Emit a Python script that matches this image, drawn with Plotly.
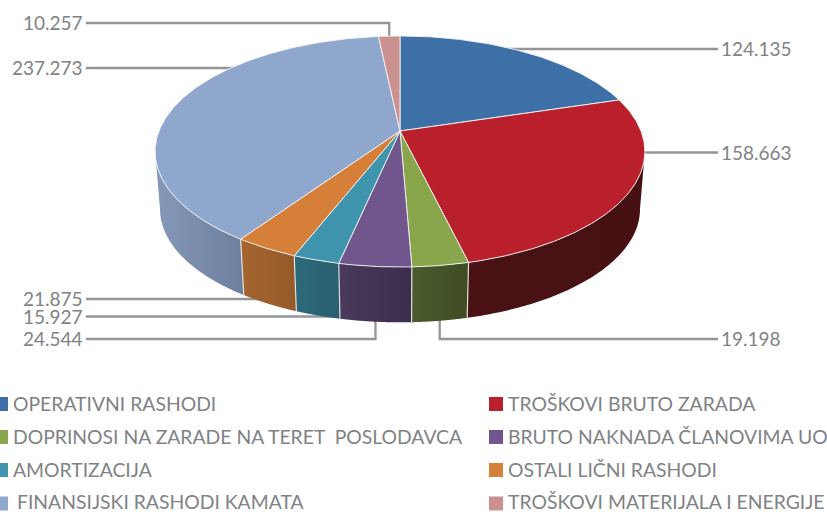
import math
import numpy as np
import plotly.graph_objects as go

# ---- data ----
categories = ["OPERATIVNI RASHODI", "TROŠKOVI BRUTO ZARADA",
              "DOPRINOSI NA ZARADE NA TERET\u00a0\u00a0POSLODAVCA", "BRUTO NAKNADA ČLANOVIMA UO",
              "AMORTIZACIJA", "OSTALI LIČNI RASHODI",
              "FINANSIJSKI RASHODI KAMATA", "TROŠKOVI MATERIJALA I ENERGIJE"]
values = [124135, 158663, 19198, 24544, 15927, 21875, 237273, 10257]
value_labels = ["124.135", "158.663", "19.198", "24.544", "15.927", "21.875", "237.273", "10.257"]

# ---- styles ----
top_colors = ["#3c70a6", "#ba1f2c", "#8aa64d", "#70568c", "#3f95ae", "#d67f38", "#8fa7cd", "#cb9191"]
wall_left = ["#2b5078", "#4a1214", "#4a5b2c", "#4a3a5c", "#2b6a7a", "#a5652e", "#8799ba", "#a06060"]
wall_right = ["#2b5078", "#461012", "#3f4c24", "#3b2c4c", "#2a5f70", "#95592a", "#6d7f9d", "#a06060"]
TEXT = "#808285"
LEAD = "#939598"
FONT = "Lato"
FS_VAL = 19
FS_LEG = 19.35

# ---- pie geometry (perspective view of a disc) ----
CX, CY = 400.0, 131.0
A, B, K = 241.0, 111.9, 0.1775
S, DROP = 0.98, 58.0


def top(theta):
    th = np.radians(theta)
    X, Y = np.sin(th), -np.cos(th)
    d = 1 - K * Y
    return CX + A * X / d, CY + B * Y / d


def bottom(theta):
    x, y = top(theta)
    return CX + S * (x - CX), CY + DROP + S * (y - CY)


total = sum(values)
bounds = [0.0]
for v in values:
    bounds.append(bounds[-1] + 360.0 * v / total)
mids = [(a + b) / 2 for a, b in zip(bounds[:-1], bounds[1:])]
ext = math.degrees(math.acos(-K))
vis0, vis1 = ext, 360 - ext

fig = go.Figure()


def line(xs, ys, color=LEAD, width=2.3):
    fig.add_trace(go.Scatter(x=xs, y=ys, mode="lines", line=dict(color=color, width=width),
                             hoverinfo="skip", showlegend=False))


# leaders: (value index, label x, label y, side, kind)
LX_R, LX_L = 718, 86
leaders = [(0, LX_R, 49, "r", "h"), (1, LX_R, 152.5, "r", "h"), (2, LX_R, 339, "r", "v"),
           (3, LX_L, 339, "l", "v"), (4, LX_L, 316.5, "l", "h"), (5, LX_L, 299, "l", "h"),
           (6, LX_L, 68, "l", "h"), (7, LX_L, 23, "l", "u")]
annotations = []
for i, lx, ly, side, kind in leaders:
    if kind == "h":
        line([CX, lx], [ly, ly])
    elif kind == "v":
        bx = float(bottom(mids[i])[0])
        line([bx, bx, lx], [300, ly, ly])
    else:
        tx = float(top(mids[i])[0])
        line([tx, tx, lx], [50, ly, ly])
    annotations.append(dict(x=lx + (1 if side == "r" else -1), y=ly - 0.5, text=value_labels[i],
                            xanchor="left" if side == "r" else "right", yanchor="middle",
                            showarrow=False, xref="x", yref="y", height=15, valign="middle",
                            font=dict(family=FONT, size=FS_VAL, color=TEXT)))

# walls, back to front at the sides first
order = sorted(range(len(values)), key=lambda i: abs(mids[i] - 180), reverse=True)
for i in order:
    a, b = max(bounds[i], vis0), min(bounds[i + 1], vis1)
    if b <= a:
        continue
    t = np.linspace(a, b, 90)
    xt, yt = top(t)
    xb, yb = bottom(t)
    fig.add_trace(go.Scatter(
        x=np.r_[xt, xb[::-1], xt[0]], y=np.r_[yt, yb[::-1], yt[0]],
        fill="toself", mode="none", hoverinfo="skip", showlegend=False,
        fillgradient=dict(type="horizontal", colorscale=[[0, wall_left[i]], [1, wall_right[i]]])))

for i in range(len(values)):
    th = bounds[i]
    if vis0 < th < vis1:
        xt, yt = top(th)
        xb, yb = bottom(th)
        line([float(xt), float(xb)], [float(yt), float(yb)], "rgba(235,235,235,0.9)", 1.2)

# top faces
for i in range(len(values)):
    t = np.linspace(bounds[i], bounds[i + 1], max(3, int(bounds[i + 1] - bounds[i]) * 2))
    xt, yt = top(t)
    fig.add_trace(go.Scatter(
        x=np.r_[CX, xt, CX], y=np.r_[CY, yt, CY], fill="toself", fillcolor=top_colors[i],
        mode="lines", line=dict(color="rgba(245,245,245,0.9)", width=1),
        hoverinfo="skip", showlegend=False))

# legend
col_x = [1, 496]
text_x = [10.5, 505.5]
row_y = [403, 436, 469, 501]
for i, name in enumerate(categories):
    c, r = i % 2, i // 2
    fig.add_trace(go.Scatter(x=[col_x[c]], y=[[404, 437, 470, 503.5][r]], mode="markers",
                             marker=dict(symbol="square", size=14, color=top_colors[i], line=dict(width=0)),
                             hoverinfo="skip", showlegend=False))
    tx = text_x[c] + (4.5 if name.startswith("FINANSIJSKI") else 0)
    annotations.append(dict(x=tx, y=row_y[r], text=name, xanchor="left", yanchor="middle",
                            showarrow=False, xref="x", yref="y",
                            font=dict(family=FONT, size=FS_LEG, color=TEXT)))

fig.update_layout(
    width=827, height=512, margin=dict(l=0, r=0, t=0, b=0),
    paper_bgcolor="white", plot_bgcolor="white", showlegend=False,
    xaxis=dict(range=[0, 827], visible=False, fixedrange=True),
    yaxis=dict(range=[512, 0], visible=False, fixedrange=True),
    annotations=annotations)
fig.write_html("out.html", config={"displayModeBar": False},
               post_script="document.body.style.margin='0';document.body.style.overflow='hidden';")
